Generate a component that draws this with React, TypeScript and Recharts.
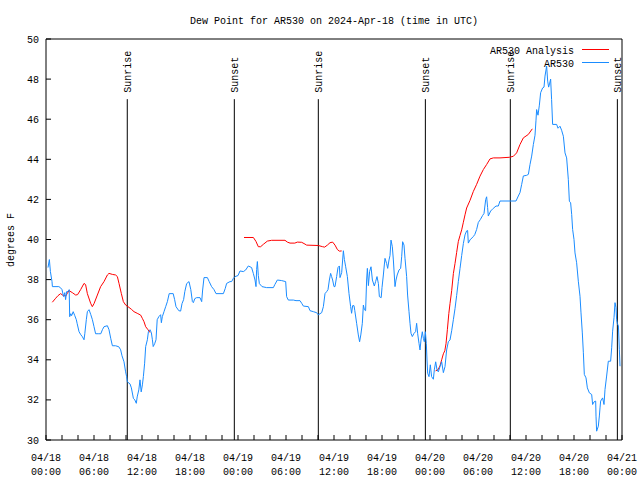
import React from 'react';
import { LineChart, Line, XAxis, YAxis, ReferenceLine } from 'recharts';

const FONT = '"Liberation Mono", "DejaVu Sans Mono", monospace';

const blueHours = [
  0.25, 0.42, 0.55, 0.75, 0.8, 1.6, 1.8, 2.0, 2.2, 2.35, 2.45, 2.58, 2.75, 2.9, 2.96, 3.1, 3.2, 3.4, 3.6, 3.79,
  3.9, 4.13, 4.35, 4.55, 4.75, 4.85, 5.04, 5.17, 5.38, 5.6, 5.8, 6.0, 6.2, 6.6, 6.85, 7.05, 7.25, 7.67, 7.875, 8.1,
  8.3, 8.7, 9.1, 9.33, 9.5, 9.75, 9.95, 10.08, 10.17, 10.5, 10.67, 10.92, 11.1, 11.29, 11.4, 11.6, 11.75, 11.9, 12.05, 12.17,
  12.33, 12.46, 12.67, 12.8, 13.0, 13.17, 13.3, 13.4, 13.58, 13.75, 13.9, 14.1, 14.33, 14.42, 14.54, 14.75, 14.96, 15.17, 15.4, 15.9,
  16.08, 16.25, 16.6, 16.83, 17.0, 17.2, 17.35, 17.58, 17.875, 18.1, 18.3, 18.42, 18.6, 18.83, 19.25, 19.46, 19.58, 19.75, 20.17, 20.4,
  20.7, 21.0, 21.25, 22.17, 22.4, 22.58, 23.0, 23.2, 23.42, 23.625, 24.0, 24.25, 24.67, 24.96, 25.29, 25.7, 25.92, 26.125, 26.25, 26.33,
  26.42, 26.54, 26.67, 26.83, 27.0, 27.58, 28.42, 28.6, 28.92, 29.46, 29.96, 30.08, 30.29, 30.92, 31.25, 31.75, 31.96, 32.17, 32.8, 33.0,
  33.42, 33.83, 34.04, 34.25, 34.46, 34.67, 34.875, 35.08, 35.25, 35.42, 35.58, 35.7, 35.83, 36.0, 36.125, 36.33, 36.5, 36.67, 36.75, 36.96,
  37.17, 37.3, 37.46, 37.67, 37.875, 38.08, 38.2, 38.33, 38.5, 38.6, 38.83, 39.04, 39.2, 39.35, 39.54, 39.67, 39.8, 39.95, 40.08, 40.17,
  40.3, 40.45, 40.625, 40.8, 41.04, 41.2, 41.375, 41.55, 41.67, 41.9, 42.0, 42.17, 42.29, 42.375, 42.58, 42.71, 42.875, 43.0, 43.125, 43.29,
  43.42, 43.625, 43.75, 43.9, 44.125, 44.33, 44.46, 44.58, 44.75, 44.875, 45.08, 45.2, 45.375, 45.5, 45.625, 45.79, 46.0, 46.2, 46.33, 46.46,
  46.625, 46.75, 46.875, 47.04, 47.17, 47.29, 47.42, 47.54, 47.625, 47.71, 47.875, 48.04, 48.2, 48.42, 48.54, 48.71, 48.875, 49.04, 49.25, 49.46,
  49.67, 49.875, 50.08, 50.29, 50.5, 50.71, 50.92, 51.125, 51.33, 51.54, 51.75, 51.96, 52.17, 52.375, 52.58, 52.7, 52.79, 53.0, 53.42, 53.6,
  53.83, 54.04, 54.3, 54.58, 54.75, 54.96, 55.08, 55.2, 55.29, 55.58, 55.9, 56.25, 56.54, 56.75, 58.75, 59.04, 59.25, 59.46, 59.67, 60.08,
  60.3, 60.5, 60.71, 60.92, 61.125, 61.25, 61.33, 61.5, 61.67, 61.83, 62.08, 62.25, 62.375, 62.58, 62.71, 62.83, 62.96, 63.08, 63.2, 63.33,
  63.83, 64.0, 64.25, 64.45, 64.67, 64.875, 65.08, 65.29, 65.42, 65.58, 65.71, 65.83, 66.0, 66.125, 66.33, 66.54, 66.75, 66.875, 67.04, 67.17,
  67.29, 67.5, 67.67, 67.92, 68.21, 68.33, 68.5, 68.71, 68.75, 68.83, 69.04, 69.17, 69.25, 69.33, 69.58, 69.75, 69.875, 70.08, 70.29, 70.58,
  70.71, 70.83, 71.0, 71.125, 71.25, 71.33, 71.42, 71.55, 71.67, 71.75,
];

const blueValues = [
  38.6, 39.0, 38.4, 37.9, 37.65, 37.65, 37.6, 37.5, 37.15, 37.35, 37.0, 37.4, 37.4, 37.5, 36.15, 36.3, 36.2, 36.4, 36.2, 36.0,
  35.8, 35.4, 35.25, 35.15, 35.0, 35.3, 36.0, 36.4, 36.5, 36.25, 36.0, 35.65, 35.3, 35.3, 35.3, 35.5, 35.65, 35.7, 35.5, 35.05,
  34.7, 34.7, 34.65, 34.5, 34.2, 33.9, 33.4, 33.16, 32.9, 32.8, 32.6, 32.08, 32.0, 31.83, 32.15, 32.5, 33.0, 32.4, 32.75, 33.16,
  33.83, 34.66, 35.0, 35.4, 35.5, 35.35, 35.0, 34.66, 34.8, 35.0, 36.0, 36.15, 36.25, 35.85, 36.15, 36.4, 36.65, 36.9, 37.3, 37.3,
  37.0, 36.65, 36.45, 36.43, 36.8, 37.0, 37.4, 37.8, 37.9, 37.5, 36.9, 36.85, 37.05, 37.1, 37.1, 36.9, 37.48, 38.1, 38.1, 37.9,
  37.65, 37.5, 37.3, 37.3, 37.55, 37.81, 37.9, 37.9, 38.06, 38.15, 38.2, 38.43, 38.4, 38.48, 38.68, 38.6, 38.3, 37.98, 37.65, 38.5,
  38.9, 38.2, 37.8, 37.73, 37.65, 37.6, 37.6, 37.75, 37.98, 37.95, 37.9, 37.15, 36.98, 36.98, 36.95, 36.95, 36.82, 36.68, 36.65, 36.45,
  36.4, 36.35, 36.24, 36.3, 36.35, 36.65, 37.3, 37.4, 37.5, 37.98, 38.31, 38.15, 37.98, 37.65, 37.65, 38.15, 38.6, 38.68, 38.1, 38.35,
  39.44, 39.0, 38.64, 38.15, 37.3, 36.65, 36.32, 36.7, 36.7, 36.45, 35.82, 35.24, 34.9, 35.24, 35.82, 36.73, 36.5, 36.45, 37.98, 38.56,
  37.7, 38.4, 38.64, 37.98, 37.68, 37.9, 38.15, 37.8, 37.15, 37.1, 37.6, 38.23, 38.73, 39.06, 38.8, 38.56, 38.98, 39.2, 39.97, 39.64,
  38.98, 37.65, 37.98, 38.23, 38.48, 38.56, 39.14, 39.89, 39.72, 39.06, 38.15, 37.23, 36.4, 35.82, 35.32, 35.16, 35.32, 35.4, 35.82, 35.3,
  34.82, 34.49, 34.99, 35.4, 35.07, 34.9, 35.4, 34.82, 33.99, 33.33, 33.16, 33.75, 33.16, 33.03, 33.5, 33.9, 33.5, 33.4, 33.66, 33.9,
  33.36, 33.66, 34.49, 34.9, 34.99, 35.45, 36.0, 36.55, 37.2, 37.9, 38.55, 39.2, 39.8, 40.23, 40.43, 40.45, 39.82, 39.98, 40.15, 40.25,
  40.5, 40.85, 41.0, 41.2, 41.3, 41.99, 42.13, 41.6, 41.17, 41.42, 41.55, 41.67, 41.67, 41.92, 41.92, 42.17, 42.34, 42.75, 43.17, 43.2,
  43.25, 43.74, 44.16, 44.74, 45.2, 45.95, 46.48, 46.2, 46.7, 47.32, 47.56, 47.6, 48.15, 48.65, 47.9, 47.6, 47.8, 48.0, 46.98, 45.74,
  45.74, 45.55, 45.65, 45.45, 45.15, 44.32, 44.07, 43.0, 41.91, 41.83, 41.25, 40.5, 40.0, 39.33, 38.84, 37.92, 37.17, 36.34, 35.34, 34.35,
  33.27, 33.1, 32.6, 32.35, 32.27, 31.77, 31.9, 31.94, 31.19, 30.44, 30.69, 31.2, 31.6, 31.94, 32.1, 31.77, 32.52, 33.19, 33.93, 33.93,
  34.6, 35.43, 36.1, 36.85, 36.6, 36.0, 35.8, 35.7, 34.5, 33.68,
];

const redHours = [
  0.79, 1.21, 1.5, 1.83, 2.1, 2.46, 2.65, 2.875, 3.29, 3.71, 3.95, 4.33, 4.75, 4.95, 5.17, 5.58, 5.79, 6.0, 6.42, 6.83,
  7.25, 7.67, 7.875, 8.29, 8.7, 8.92, 9.125, 9.42, 9.67, 9.96, 10.25, 10.67, 11.0, 11.4, 11.83, 12.04, 12.25, 12.46, 12.75, 13.0,
  18.0,
  24.75, 25.92, 26.25, 26.54, 26.83, 27.17, 27.67, 28.2, 29.875, 30.17, 30.5, 31.1, 31.42, 31.96, 32.375, 32.58, 34.04, 34.58, 34.83, 35.17,
  35.5, 35.83, 36.125, 36.42, 36.67, 36.96,
  42.0,
  48.7, 49.0, 49.25, 49.46, 49.67, 49.85, 50.0, 50.17, 50.35, 50.5, 50.71, 50.92, 51.125, 51.33, 51.54, 51.75, 51.96, 52.17, 52.375, 52.58,
  53.0, 53.42, 53.83, 54.25, 54.67, 55.08, 55.5, 55.92, 56.75, 57.92, 58.42, 58.83, 59.25, 59.67, 60.29, 60.79,
];

const redValues: (number | null)[] = [
  36.87, 37.07, 37.2, 37.3, 37.22, 37.18, 37.3, 37.45, 37.35, 37.23, 37.25, 37.5, 37.81, 37.75, 37.3, 36.82, 36.65, 36.8, 37.23, 37.65,
  37.9, 38.23, 38.31, 38.26, 38.23, 38.15, 37.81, 37.3, 36.9, 36.73, 36.65, 36.52, 36.4, 36.32, 36.23, 36.07, 35.9, 35.65, 35.5, 35.36,
  null,
  40.1, 40.1, 39.9, 39.64, 39.64, 39.76, 39.92, 39.96, 39.96, 39.87, 39.82, 39.82, 39.87, 39.86, 39.77, 39.72, 39.7, 39.64, 39.62, 39.72,
  39.84, 39.87, 39.72, 39.5, 39.42, 39.43,
  null,
  33.45, 33.5, 33.7, 34.0, 34.3, 34.45, 34.8, 35.5, 36.3, 36.8, 37.45, 38.3, 38.8, 39.35, 39.9, 40.2, 40.48, 40.86, 41.23, 41.57,
  41.95, 42.4, 42.75, 43.16, 43.49, 43.74, 44.02, 44.07, 44.07, 44.1, 44.15, 44.32, 44.74, 45.07, 45.24, 45.52,
];

const eventHours = [10.16, 23.54, 34.04, 47.42, 58.04, 71.42];
const eventLabels = ['Sunrise', 'Sunset', 'Sunrise', 'Sunset', 'Sunrise', 'Sunset'];
const eventTop = 47.0;

const xTicks = [0, 2, 4, 6, 8, 10, 12, 14, 16, 18, 20, 22, 24, 26, 28, 30, 32, 34, 36, 38, 40, 42, 44, 46, 48, 50, 52, 54, 56, 58, 60, 62, 64, 66, 68, 70, 72];
const xLabelDates = ['04/18', '04/18', '04/18', '04/18', '04/19', '04/19', '04/19', '04/19', '04/20', '04/20', '04/20', '04/20', '04/21'];
const xLabelTimes = ['00:00', '06:00', '12:00', '18:00', '00:00', '06:00', '12:00', '18:00', '00:00', '06:00', '12:00', '18:00', '00:00'];
const yTicks = [30, 32, 34, 36, 38, 40, 42, 44, 46, 48, 50];

const TITLE = 'Dew Point for AR530 on 2024-Apr-18 (time in UTC)';
const Y_LABEL = 'degrees F';
const SERIES_ANALYSIS = 'AR530 Analysis';
const SERIES_OBS = 'AR530';
const RED = '#ff0000';
const BLUE = '#1a8cff';

const blueData = blueHours.map((h, i) => ({ h, v: blueValues[i] }));
const redData = redHours.map((h, i) => ({ h, v: redValues[i] }));

const BottomTick = (props: any) => {
  const { x, y, payload } = props;
  const val = payload.value as number;
  if (val % 6 !== 0) return <g />;
  const k = val / 6;
  return (
    <g>
      <text x={x} y={y + 21} textAnchor="middle" fontFamily={FONT} fontSize={10} fill="#000">
        {xLabelDates[k]}
      </text>
      <text x={x} y={y + 35} textAnchor="middle" fontFamily={FONT} fontSize={10} fill="#000">
        {xLabelTimes[k]}
      </text>
    </g>
  );
};

const makeEventLabel = (text: string) => (props: any) => {
  const vb = props.viewBox || {};
  const x = vb.x ?? 0;
  const y = vb.y ?? 0;
  return (
    <text
      transform={`translate(${x + 4}, ${y - 6.5}) rotate(-90)`}
      textAnchor="start"
      fontFamily={FONT}
      fontSize={10}
      fill="#000"
    >
      {text}
    </text>
  );
};

export default function App() {
  return (
    <div style={{ position: 'absolute', left: 0, top: 0, background: '#fff' }}>
      <LineChart width={640} height={480} margin={{ top: 0, right: 0, bottom: 0, left: 0 }}>
        <XAxis
          dataKey="h"
          type="number"
          domain={[0, 72]}
          ticks={xTicks}
          interval={0}
          allowDataOverflow
          height={40}
          stroke="#000"
          tickSize={-5}
          tickMargin={5}
          tick={<BottomTick />}
        />
        <XAxis
          xAxisId="top"
          orientation="top"
          dataKey="h"
          type="number"
          domain={[0, 72]}
          ticks={xTicks}
          interval={0}
          height={39}
          stroke="#000"
          tickSize={-5}
          tickFormatter={() => ''}
        />
        <YAxis
          type="number"
          domain={[30, 50]}
          ticks={yTicks}
          interval={0}
          width={46}
          stroke="#000"
          tickSize={-5}
          tickMargin={12}
          tick={{ fontFamily: FONT, fontSize: 10, fill: '#000' }}
        />
        <YAxis
          yAxisId="right"
          orientation="right"
          type="number"
          domain={[30, 50]}
          ticks={yTicks}
          interval={0}
          width={18}
          stroke="#000"
          tickSize={-5}
          tickFormatter={() => ''}
        />
        {eventHours.map((h, i) => (
          <ReferenceLine
            key={`ev${i}`}
            segment={[{ x: h, y: 30 }, { x: h, y: eventTop }]}
            stroke="#000"
            strokeWidth={1}
            label={makeEventLabel(eventLabels[i])}
          />
        ))}
        <Line
          data={redData}
          dataKey="v"
          type="linear"
          stroke={RED}
          strokeWidth={1}
          dot={false}
          activeDot={false}
          connectNulls={false}
          isAnimationActive={false}
        />
        <Line
          data={blueData}
          dataKey="v"
          type="linear"
          stroke={BLUE}
          strokeWidth={1}
          dot={false}
          activeDot={false}
          isAnimationActive={false}
        />
        <text x={334} y={24} textAnchor="middle" fontFamily={FONT} fontSize={10} fill="#000">
          {TITLE}
        </text>
        <text transform="translate(14, 240) rotate(-90)" textAnchor="middle" fontFamily={FONT} fontSize={10} fill="#000">
          {Y_LABEL}
        </text>
        <g>
          <text x={574} y={53.5} textAnchor="end" fontFamily={FONT} fontSize={10} fill="#000">
            {SERIES_ANALYSIS}
          </text>
          <line x1={582} y1={49.5} x2={609} y2={49.5} stroke={RED} strokeWidth={1} />
          <text x={574} y={66.5} textAnchor="end" fontFamily={FONT} fontSize={10} fill="#000">
            {SERIES_OBS}
          </text>
          <line x1={582} y1={62.5} x2={609} y2={62.5} stroke={BLUE} strokeWidth={1} />
        </g>
      </LineChart>
    </div>
  );
}
